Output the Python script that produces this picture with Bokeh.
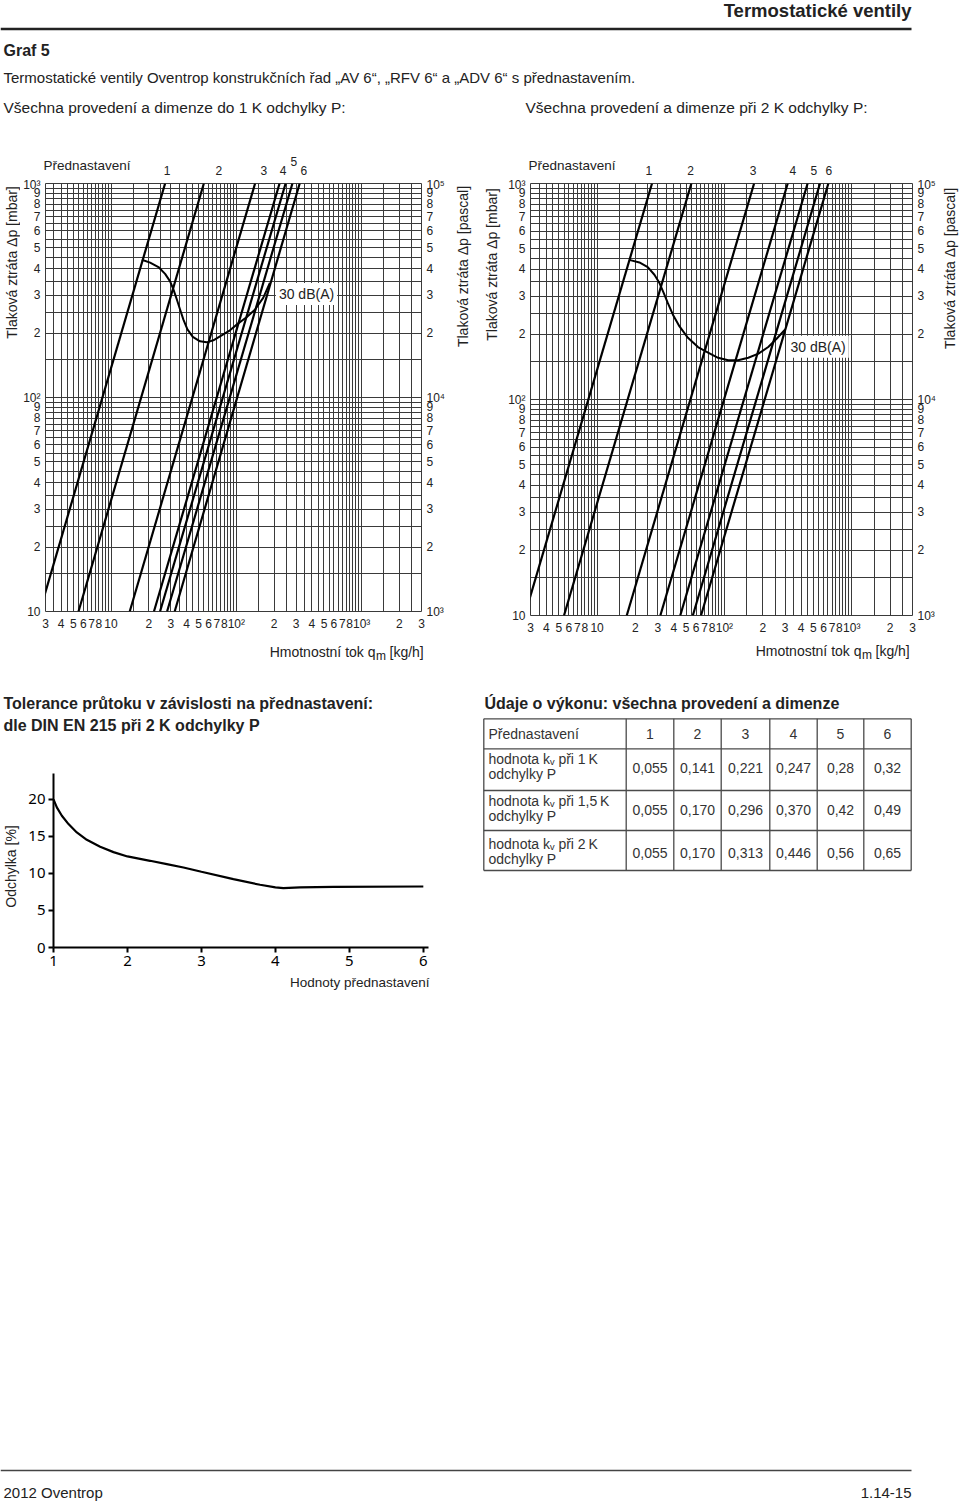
import math
from bokeh.plotting import figure
from bokeh.models import Range1d, LogAxis, LogScale, FixedTicker, Label
from bokeh.layouts import column, row
from bokeh.core.properties import value
from bokeh.embed import file_html
from bokeh.resources import INLINE

# ---------------------------------------------------------------- data
PRESET_NAMES = ["1", "2", "3", "4", "5", "6"]

# presetting lines: flow q [kg/h] read at 10 mbar and at 1000 mbar
DP_LINE_ENDS = [10, 1000]
LEFT_Q_AT_10 = [2.7, 5.5, 14.1, 22.0, 24.6, 28.0, 32.2]
LEFT_Q_AT_1000 = [27, 55, 141, 221, 247, 280, 320]
RIGHT_Q_AT_10 = [2.7, 5.5, 17.1, 31.4, 45.0, 56.5, 65.5]
RIGHT_Q_AT_1000 = [27, 55, 171, 314, 450, 563, 655]

# 30 dB(A) noise limit curves
LEFT_CURVE_Q = [17.6, 20.5, 23.9, 27.0, 29.6, 31.5, 33.5, 35.6, 37.8, 40.7, 44.9,
                51.3, 58.0, 65.5, 76.3, 88.9, 103.5, 120.6, 140.5, 163.7, 185]
LEFT_CURVE_DP = [440, 427, 407, 378, 349, 319, 287, 257, 231, 208, 192,
                 183, 181, 185, 195, 206, 222, 237, 257, 292, 343]
RIGHT_CURVE_Q = [17.9, 21.5, 25.0, 28.2, 30.9, 33.4, 35.9, 39.4, 44.4, 51.7,
                 62.0, 74.4, 89.2, 107, 128, 154, 185, 221, 257, 300]
RIGHT_CURVE_DP = [443, 431, 410, 378, 346, 311, 280, 247, 218, 193,
                  175, 165, 156, 152, 152, 156, 163, 175, 191, 211]

# axis ranges and ticks of the pressure charts
Q_RANGE = (3, 3000)
DP_RANGE = (10, 1000)
PA_RANGE = (1000, 100000)
X_TICKS = [3, 4, 5, 6, 7, 8, 10, 20, 30, 40, 50, 60, 70, 80, 100,
           200, 300, 400, 500, 600, 700, 800, 1000, 2000, 3000]
X_TICK_LABELS = ["3", "4", "5", "6", "7", "8", "10", "2", "3", "4", "5", "6", "7", "8", "10²",
                 "2", "3", "4", "5", "6", "7", "8", "10³", "2", "3"]
MBAR_TICKS = [10, 20, 30, 40, 50, 60, 70, 80, 90, 100,
              200, 300, 400, 500, 600, 700, 800, 900, 1000]
MBAR_LABELS = ["10", "2", "3", "4", "5", "6", "7", "8", "9", "10²",
               "2", "3", "4", "5", "6", "7", "8", "9", "10³"]
PA_TICKS = [1000, 2000, 3000, 4000, 5000, 6000, 7000, 8000, 9000, 10000,
            20000, 30000, 40000, 50000, 60000, 70000, 80000, 90000, 100000]
PA_LABELS = ["10³", "2", "3", "4", "5", "6", "7", "8", "9", "10⁴",
             "2", "3", "4", "5", "6", "7", "8", "9", "10⁵"]
GRID_STEPS = [1 + 0.5 * i for i in range(19)]   # 1, 1.5 ... 10 within each decade

# flow tolerance chart
TOL_X = [1.0, 1.045, 1.113, 1.203, 1.315, 1.45, 1.631, 1.811, 2.0, 2.306, 2.532,
         2.757, 3.0, 3.432, 3.793, 4.0, 4.108, 4.333, 4.784, 6.0]
TOL_Y = [20.0, 18.92, 17.79, 16.67, 15.54, 14.55, 13.6, 12.88, 12.3, 11.71, 11.26,
         10.81, 10.23, 9.23, 8.47, 8.11, 8.02, 8.11, 8.2, 8.24]
TOL_X_TICKS = [1, 2, 3, 4, 5, 6]
TOL_Y_TICKS = [0, 5, 10, 15, 20]

# kv table
TABLE_HEAD = "Přednastavení"
TABLE_ROW_LABELS = [("hodnota kᵥ při 1\u2009K", "odchylky P"),
                    ("hodnota kᵥ při 1,5\u2009K", "odchylky P"),
                    ("hodnota kᵥ při 2\u2009K", "odchylky P")]
KV_1K = ["0,055", "0,141", "0,221", "0,247", "0,28", "0,32"]
KV_15K = ["0,055", "0,170", "0,296", "0,370", "0,42", "0,49"]
KV_2K = ["0,055", "0,170", "0,313", "0,446", "0,56", "0,65"]

# ---------------------------------------------------------------- style
FONT = "Liberation Sans"
TOL_FONT = "Noto Sans"
INK = "#222222"
GRID = "#3a3a3a"


def strip(x0, y0, w, h):
    """A plain drawing area whose data coordinates are page pixels."""
    p = figure(width=w, height=h, x_range=Range1d(x0, x0 + w), y_range=Range1d(y0 + h, y0),
               output_backend="svg", toolbar_location=None, min_border=0,
               x_axis_location=None, y_axis_location=None, frame_align=False)
    p.grid.visible = False
    p.outline_line_color = None
    return p


def txt(p, px, py, text, size, bold=False, align="left", font=FONT, color=INK, angle=0.0):
    p.text(x=[px], y=[py], text=[text], text_font=value(font),
           text_font_size=f"{size}px", text_font_style="bold" if bold else "normal",
           text_align=align, text_baseline="middle", text_color=color, angle=angle)


# ---------------------------------------------------------------- header
header = strip(0, 0, 960, 150)
txt(header, 911, 10, "Termostatické ventily", 18.5, bold=True, align="right")
header.segment(x0=[0], y0=[28.5], x1=[911], y1=[28.5], line_width=2.5, line_color=INK)
txt(header, 3, 50, "Graf 5", 16, bold=True)
txt(header, 3, 77,
    "Termostatické ventily Oventrop konstrukčních řad „AV 6“, „RFV 6“ a „ADV 6“ s přednastavením.", 15)
txt(header, 3, 107, "Všechna provedení a dimenze do 1 K odchylky P:", 15.5)
txt(header, 525, 107, "Všechna provedení a dimenze při 2 K odchylky P:", 15.5)

# ---------------------------------------------------------------- pressure charts


def decade_grid(lo, hi):
    vals = set()
    for k in range(-1, 6):
        for m in GRID_STEPS:
            v = round(m * 10 ** k, 6)
            if lo - 1e-9 <= v <= hi + 1e-9:
                vals.add(v)
    return sorted(vals)


def log_conv(fr):
    x0, x1, y0, y1 = fr
    lq0, lq1 = math.log10(Q_RANGE[0]), math.log10(Q_RANGE[1])
    ld0, ld1 = math.log10(DP_RANGE[0]), math.log10(DP_RANGE[1])

    def conv(px, py):
        return (10 ** (lq0 + (px - x0) / (x1 - x0) * (lq1 - lq0)),
                10 ** (ld1 - (py - y0) / (y1 - y0) * (ld1 - ld0)))
    return conv


def pressure_chart(fig_box, fr, q10, q1000, cq, cdp, db_pos):
    fx, fy, fw, fh = fig_box
    x0, x1, y0, y1 = fr
    p = figure(width=fw, height=fh, x_axis_type="log", y_axis_type="log",
               x_range=Range1d(*Q_RANGE), y_range=Range1d(*DP_RANGE),
               output_backend="svg", toolbar_location=None, frame_align=False,
               min_border_left=x0 - fx, min_border_right=fx + fw - x1,
               min_border_top=y0 - fy, min_border_bottom=fy + fh - y1)
    p.outline_line_color = GRID
    p.xgrid.ticker = FixedTicker(ticks=decade_grid(*Q_RANGE))
    p.ygrid.ticker = FixedTicker(ticks=decade_grid(*DP_RANGE))
    p.grid.grid_line_color = GRID
    p.grid.grid_line_width = 1
    p.grid.grid_line_alpha = 1

    p.xaxis.ticker = FixedTicker(ticks=X_TICKS, minor_ticks=[])
    p.xaxis.major_label_overrides = dict(zip(X_TICKS, X_TICK_LABELS))
    p.yaxis.ticker = FixedTicker(ticks=MBAR_TICKS, minor_ticks=[])
    p.yaxis.major_label_overrides = dict(zip(MBAR_TICKS, MBAR_LABELS))

    p.extra_y_ranges = {"pa": Range1d(*PA_RANGE)}
    p.extra_y_scales = {"pa": LogScale()}
    ra = LogAxis(y_range_name="pa", ticker=FixedTicker(ticks=PA_TICKS, minor_ticks=[]),
                 major_label_overrides=dict(zip(PA_TICKS, PA_LABELS)))
    p.add_layout(ra, "right")

    for ax in p.xaxis + p.yaxis:
        ax.axis_line_color = None
        ax.major_tick_line_color = None
        ax.minor_tick_line_color = None
        ax.major_tick_out = 0
        ax.major_tick_in = 0
        ax.major_label_text_font = FONT
        ax.major_label_text_font_size = "12px"
        ax.major_label_text_color = INK
        ax.major_label_standoff = 5

    p.multi_line(xs=[[a, b] for a, b in zip(q10, q1000)], ys=[DP_LINE_ENDS] * len(q10),
                 line_color="black", line_width=2.2)
    p.line(cq, cdp, line_color="black", line_width=2)

    x, y = log_conv(fr)(*db_pos)
    lab = Label(x=x, y=y, text="30 dB(A)", text_font=FONT, text_font_size="14px",
                text_baseline="middle", text_color=INK, background_fill_color="white")
    try:
        lab.padding = 3
    except Exception:
        pass
    p.add_layout(lab)
    return p


def chart_block(block, fig_box, side_l, side_r, fr, q10, q1000, cq, cdp, preset_pos, db_pos,
                lab_l, lab_r, xlab):
    bx, by, bw, bh = block
    fx, fy, fw, fh = fig_box
    top = strip(bx, by, bw, fy - by)
    txt(top, fr[0] - 2, 165, "Přednastavení", 13.5)
    for name, (px, py) in zip(PRESET_NAMES, preset_pos):
        txt(top, px, py, name, 12, align="center")
    left = strip(bx, fy, side_l, fh)
    txt(left, lab_l[0], lab_l[1], "Tlaková ztráta Δp [mbar]", 14, align="center", angle=math.pi / 2)
    right = strip(fx + fw, fy, side_r, fh)
    txt(right, lab_r[0], lab_r[1], "Tlaková ztráta Δp [pascal]", 14, align="center", angle=math.pi / 2)
    bottom = strip(bx, fy + fh, bw, by + bh - fy - fh)
    qx, ly = xlab
    txt(bottom, qx, ly, "Hmotnostní tok q", 14, align="right")
    txt(bottom, qx + 0.5, ly + 4, "m", 12)
    txt(bottom, qx + 14, ly, "[kg/h]", 14)
    chart = pressure_chart(fig_box, fr, q10, q1000, cq, cdp, db_pos)
    return column(top, row(left, chart, right), bottom)


left_block = chart_block(
    (0, 150, 478, 515), (20, 177, 428, 456), 20, 30, (45, 422, 183, 613),
    LEFT_Q_AT_10, LEFT_Q_AT_1000, LEFT_CURVE_Q, LEFT_CURVE_DP,
    [(166.7, 170), (218.3, 170), (263.3, 170), (282.7, 170), (293.3, 161), (303.3, 170)],
    (276, 294), (11, 262), (462, 266), (375, 651))
right_block = chart_block(
    (478, 150, 482, 515), (502, 177, 438, 460), 24, 20, (530, 912, 183, 617),
    RIGHT_Q_AT_10, RIGHT_Q_AT_1000, RIGHT_CURVE_Q, RIGHT_CURVE_DP,
    [(648.3, 170), (690, 170), (752.7, 170), (792.3, 170), (813.3, 170), (828.3, 170)],
    (787, 347), (491, 264), (949, 268), (861, 650))

# ---------------------------------------------------------------- tolerance chart
TOL_FR = (53, 428, 773, 947)
TOL_BOX = (22, 765, 456, 207)
tol = figure(width=TOL_BOX[2], height=TOL_BOX[3], x_range=Range1d(1, 6.07), y_range=Range1d(0, 23.5),
             output_backend="svg", toolbar_location=None, frame_align=False,
             min_border_left=TOL_FR[0] - TOL_BOX[0], min_border_right=TOL_BOX[0] + TOL_BOX[2] - TOL_FR[1],
             min_border_top=TOL_FR[2] - TOL_BOX[1], min_border_bottom=TOL_BOX[1] + TOL_BOX[3] - TOL_FR[3])
tol.outline_line_color = None
tol.grid.visible = False
tol.xaxis.ticker = FixedTicker(ticks=TOL_X_TICKS, minor_ticks=[])
tol.yaxis.ticker = FixedTicker(ticks=TOL_Y_TICKS, minor_ticks=[])
for ax in tol.xaxis + tol.yaxis:
    ax.axis_line_color = "black"
    ax.axis_line_width = 2
    ax.major_tick_line_color = "black"
    ax.major_tick_line_width = 2
    ax.major_tick_out = 5
    ax.major_tick_in = 0
    ax.minor_tick_line_color = None
    ax.major_label_text_font = TOL_FONT
    ax.major_label_text_font_size = "15px"
    ax.major_label_text_color = "black"
    ax.major_label_standoff = 3
tol.line(TOL_X, TOL_Y, line_color="black", line_width=2.2)

tol_top = strip(0, 665, 478, TOL_BOX[1] - 665)
txt(tol_top, 3, 703, "Tolerance průtoku v závislosti na přednastavení:", 16, bold=True)
txt(tol_top, 3, 725, "dle DIN EN 215 při 2 K odchylky P", 16, bold=True)
tol_left = strip(0, TOL_BOX[1], TOL_BOX[0], TOL_BOX[3])
txt(tol_left, 10, 866, "Odchylka [%]", 14, align="center", angle=math.pi / 2)
tol_bottom = strip(0, TOL_BOX[1] + TOL_BOX[3], 478, 1000 - TOL_BOX[1] - TOL_BOX[3])
txt(tol_bottom, 429, 982, "Hodnoty přednastavení", 13.5, align="right")
tol_block = column(tol_top, row(tol_left, tol), tol_bottom)

# ---------------------------------------------------------------- kv table
table = strip(478, 665, 482, 335)
txt(table, 484, 703, "Údaje o výkonu: všechna provedení a dimenze", 16, bold=True)
COL_EDGES = [483.3, 625.7, 673.3, 720.7, 769.3, 816.7, 863.3, 910.7]
ROW_EDGES = [718.3, 748.3, 790, 830, 870]
table.segment(x0=COL_EDGES, y0=[ROW_EDGES[0]] * len(COL_EDGES),
              x1=COL_EDGES, y1=[ROW_EDGES[-1]] * len(COL_EDGES),
              line_color="#4a4a4a", line_width=1.3)
table.segment(x0=[COL_EDGES[0]] * len(ROW_EDGES), y0=ROW_EDGES,
              x1=[COL_EDGES[-1]] * len(ROW_EDGES), y1=ROW_EDGES,
              line_color="#4a4a4a", line_width=1.3)
centers = [(a + b) / 2 for a, b in zip(COL_EDGES[1:-1], COL_EDGES[2:])]
TCOL = "#333333"
txt(table, 488, 733.3, TABLE_HEAD, 14, color=TCOL)
for cx, name in zip(centers, PRESET_NAMES):
    txt(table, cx, 733.3, name, 14, align="center", color=TCOL)
row_lines = [(758.3, 773.3, 767.3), (800, 815, 809), (843.3, 858.3, 852.3)]
for (l1, l2), (ya, yb, yv), vals in zip(TABLE_ROW_LABELS, row_lines, [KV_1K, KV_15K, KV_2K]):
    txt(table, 488, ya, l1, 14, color=TCOL)
    txt(table, 488, yb, l2, 14, color=TCOL)
    for cx, v in zip(centers, vals):
        txt(table, cx, yv, v, 14, align="center", color=TCOL)

# ---------------------------------------------------------------- footer
footer = strip(0, 1000, 960, 502)
footer.segment(x0=[0], y0=[1470], x1=[911], y1=[1470], line_width=1.5, line_color="#444444")
txt(footer, 3, 1492, "2012 Oventrop", 15)
txt(footer, 911, 1492, "1.14-15", 15, align="right")

page = column(header, row(left_block, right_block), row(tol_block, table), footer)
open("out.html", "w").write(file_html(page, INLINE))
